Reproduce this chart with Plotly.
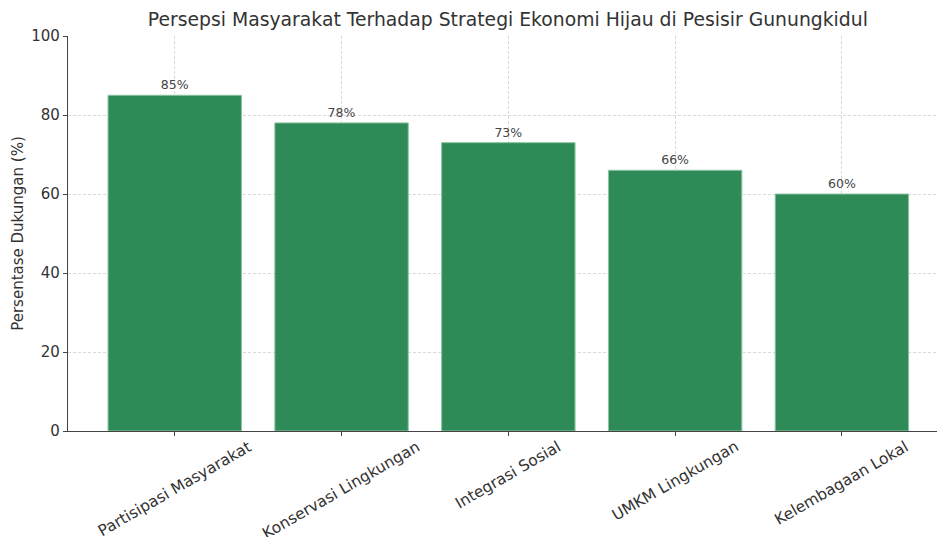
import plotly.graph_objects as go

categories = ["Partisipasi Masyarakat", "Konservasi Lingkungan", "Integrasi Sosial",
              "UMKM Lingkungan", "Kelembagaan Lokal"]
support = [85, 78, 73, 66, 60]
y_ticks = [0, 20, 40, 60, 80, 100]

fig = go.Figure(go.Bar(
    x=categories, y=support, width=0.8,
    marker=dict(color="#2E8B57", line=dict(color="#8fc4a4", width=1)),
    text=[f"{v}%" for v in support], textposition="outside",
    textfont=dict(size=12.5, color="#444444"), cliponaxis=False,
))

for c in categories:
    fig.add_annotation(
        x=c, xref="x", y=0, yref="paper", yshift=-4,
        text=c, textangle=-30, showarrow=False,
        xanchor="center", yanchor="top",
        font=dict(size=15.5, color="#333333"),
    )

fig.update_layout(
    width=937, height=537,
    margin=dict(l=68, r=0, t=36, b=106),
    paper_bgcolor="white", plot_bgcolor="white",
    font=dict(family="DejaVu Sans", color="#333333"),
    title=dict(text="Persepsi Masyarakat Terhadap Strategi Ekonomi Hijau di Pesisir Gunungkidul",
               x=0.542, xanchor="center", y=0.963, yanchor="middle",
               font=dict(size=18.8, color="#333333")),
    showlegend=False,
)
fig.update_xaxes(
    range=[-0.64, 4.57], showticklabels=False, automargin=False,
    showline=True, linecolor="#444444", linewidth=1.2,
    ticks="outside", ticklen=4, tickcolor="#444444",
    showgrid=True, gridcolor="#d8d8d8", griddash="3px,2px", gridwidth=1,
    layer="above traces",
)
fig.update_yaxes(
    range=[0, 100], tickvals=y_ticks, tickfont=dict(size=15, color="#333333"),
    title=dict(text="Persentase Dukungan (%)", font=dict(size=15, color="#333333"), standoff=4),
    showline=True, linecolor="#444444", linewidth=1.2, automargin=False,
    ticks="outside", ticklen=4, tickcolor="#444444",
    showgrid=True, gridcolor="#d8d8d8", griddash="3px,2px", gridwidth=1,
    zeroline=False, layer="above traces",
)

fig.write_html("out.html", config={"displayModeBar": False},
               post_script="document.body.style.margin='0';")
